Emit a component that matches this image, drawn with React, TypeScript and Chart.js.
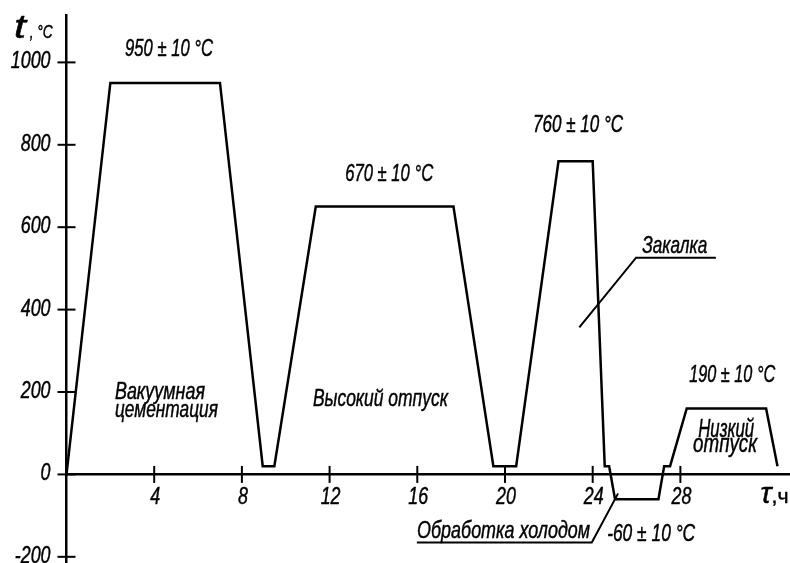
import React, { useEffect, useRef } from 'react';
import { Chart, registerables } from 'chart.js';

Chart.register(...registerables);

// Heat-treatment profile: time (h) and temperature (°C)
const timeH = [0, 2.0, 7.0, 8.95, 9.48, 11.37, 17.65, 19.47, 20.51, 22.44, 24.0, 24.55, 24.75, 25.02, 27.0, 27.26, 27.53, 28.29, 31.91, 32.43];
const tempC = [0, 950, 950, 20, 20, 650, 650, 20, 20, 760, 760, 20, 20, -60, -60, 20, 20, 160, 160, 20];

// Leader lines
const quenchLeaderX = [23.39, 25.98, 29.62];
const quenchLeaderY = [357, 526, 526];
const coldLeaderX = [15.98, 23.96, 25.16];
const coldLeaderY = [-165, -165, -46];

// Axis ticks
const xTicks = [4, 8, 12, 16, 20, 24, 28];
const yTicks = [-200, 0, 200, 400, 600, 800, 1000];

// Axis range
const X_MIN = 0;
const X_MAX = 33;
const Y_MIN = -215;
const Y_MAX = 1115;

const FONT = "'Liberation Sans', 'DejaVu Sans', sans-serif";

// Texts (anchored at left/baseline in data coordinates; w = fitted width in px)
const labels = [
  { text: '950 ± 10 °C', x: 2.67, y: 1016, w: 88, size: 23, italic: true },
  { text: '670 ± 10 °C', x: 12.71, y: 711, w: 88, size: 23, italic: true },
  { text: '760 ± 10 °C', x: 21.28, y: 830, w: 90, size: 23, italic: true },
  { text: '190 ± 10 °C', x: 28.40, y: 225, w: 86, size: 23, italic: true },
  { text: 'Вакуумная', x: 2.21, y: 183, w: 90, size: 23, italic: true },
  { text: 'цементация', x: 2.21, y: 139.5, w: 103, size: 23, italic: true },
  { text: 'Высокий отпуск', x: 11.24, y: 165, w: 135, size: 23, italic: true },
  { text: 'Закалка', x: 26.26, y: 538, w: 65, size: 23, italic: true },
  { text: 'Низкий', x: 28.81, y: 90, w: 56, size: 24, italic: true },
  { text: 'отпуск', x: 28.58, y: 55, w: 64, size: 24, italic: true },
  { text: 'Обработка холодом', x: 15.99, y: -154, w: 173, size: 23, italic: true },
  { text: '-60 ± 10 °C', x: 24.66, y: -162.6, w: 88, size: 23, italic: true },
  { text: 't', x: -2.40, y: 1059.5, w: 12, size: 32, italic: true },
  { text: ', °C', x: -1.68, y: 1059.5, w: 23, size: 18, italic: true },
  { text: 'τ', x: 31.66, y: -69, w: 11, size: 28, italic: true },
  { text: ',ч', x: 32.16, y: -69, w: 17, size: 20, italic: false },
];

const TICK_SIZE = 23.5;
const TICK_SCALE = 0.76;
const TEXT_STROKE = 0.45;

function paintText(ctx: CanvasRenderingContext2D, text: string) {
  ctx.fillStyle = '#000';
  ctx.strokeStyle = '#000';
  ctx.lineWidth = TEXT_STROKE;
  ctx.lineJoin = 'round';
  ctx.fillText(text, 0, 0);
  ctx.strokeText(text, 0, 0);
}

function fitText(ctx: CanvasRenderingContext2D, text: string, px: number, py: number, width: number, size: number, italic: boolean) {
  ctx.save();
  ctx.font = `${italic ? 'italic ' : ''}${size}px ${FONT}`;
  const m = ctx.measureText(text).width || 1;
  ctx.translate(px, py);
  ctx.scale(width / m, 1.05);
  ctx.textAlign = 'left';
  ctx.textBaseline = 'alphabetic';
  paintText(ctx, text);
  ctx.restore();
}

function scaledText(ctx: CanvasRenderingContext2D, text: string, px: number, py: number, align: CanvasTextAlign) {
  ctx.save();
  ctx.font = `italic ${TICK_SIZE}px ${FONT}`;
  ctx.translate(px, py);
  ctx.scale(TICK_SCALE, 1);
  ctx.textAlign = align;
  ctx.textBaseline = 'alphabetic';
  paintText(ctx, text);
  ctx.restore();
}

const drawingPlugin = {
  id: 'drawingExtras',
  afterDraw(chart: any) {
    const { ctx, scales } = chart;
    const xs = scales.x;
    const ys = scales.y;
    ctx.save();
    const y0 = ys.getPixelForValue(0);
    xs.ticks.forEach((t: any) => {
      const px = xs.getPixelForValue(t.value);
      ctx.strokeStyle = '#000';
      ctx.lineWidth = 2;
      ctx.beginPath();
      ctx.moveTo(px, y0 - 8.5);
      ctx.lineTo(px, y0 + 8.5);
      ctx.stroke();
      scaledText(ctx, String(t.value), px + 1, y0 + 29.5, 'center');
    });
    const x0 = xs.getPixelForValue(0);
    ys.ticks.forEach((t: any) => {
      const py = ys.getPixelForValue(t.value);
      ctx.strokeStyle = '#000';
      ctx.lineWidth = 2;
      ctx.beginPath();
      ctx.moveTo(x0 - 9, py);
      ctx.lineTo(x0 + 9, py);
      ctx.stroke();
      scaledText(ctx, String(t.value), x0 - 16, py + 6, 'right');
    });
    labels.forEach((l) => {
      fitText(ctx, l.text, xs.getPixelForValue(l.x), ys.getPixelForValue(l.y), l.w, l.size, l.italic);
    });
    ctx.restore();
  },
};

export default function App() {
  const canvasRef = useRef<HTMLCanvasElement | null>(null);

  useEffect(() => {
    const canvas = canvasRef.current;
    if (!canvas) return;
    const toPoints = (xsArr: number[], ysArr: number[]) => xsArr.map((v, i) => ({ x: v, y: ysArr[i] }));
    const lineStyle = { borderColor: '#000', pointRadius: 0, tension: 0, fill: false };
    const chart = new Chart(canvas, {
      type: 'line',
      data: {
        datasets: [
          { data: toPoints(timeH, tempC), borderWidth: 2.5, ...lineStyle },
          { data: toPoints(quenchLeaderX, quenchLeaderY), borderWidth: 2, ...lineStyle },
          { data: toPoints(coldLeaderX, coldLeaderY), borderWidth: 2, ...lineStyle },
        ],
      },
      options: {
        animation: false,
        responsive: false,
        maintainAspectRatio: false,
        layout: { padding: { top: 15, right: 0, bottom: 0, left: 0 } },
        plugins: {
          legend: { display: false },
          tooltip: { enabled: false },
          title: { display: false },
        },
        scales: {
          x: {
            type: 'linear',
            min: X_MIN,
            max: X_MAX,
            position: { y: 0 } as any,
            afterBuildTicks: (axis: any) => {
              axis.ticks = xTicks.map((value) => ({ value }));
            },
            afterFit: (axis: any) => {
              axis.height = 0;
              axis.paddingLeft = 0;
              axis.paddingRight = 0;
              axis.paddingTop = 0;
              axis.paddingBottom = 0;
            },
            grid: { display: false },
            border: { display: true, color: '#000', width: 2.5 },
            ticks: { display: false },
          },
          y: {
            type: 'linear',
            min: Y_MIN,
            max: Y_MAX,
            position: 'left',
            afterBuildTicks: (axis: any) => {
              axis.ticks = yTicks.map((value) => ({ value }));
            },
            afterFit: (axis: any) => {
              axis.width = 66.5;
              axis.paddingLeft = 0;
              axis.paddingRight = 0;
              axis.paddingTop = 0;
              axis.paddingBottom = 0;
            },
            grid: { display: false },
            border: { display: true, color: '#000', width: 2.5 },
            ticks: { display: false },
          },
        },
      },
      plugins: [drawingPlugin],
    } as any);
    return () => chart.destroy();
  }, []);

  return (
    <div style={{ position: 'fixed', left: 0, top: 0, width: 790, height: 563, background: '#fff' }}>
      <canvas ref={canvasRef} width={790} height={563} style={{ width: 790, height: 563, display: 'block' }} />
    </div>
  );
}
